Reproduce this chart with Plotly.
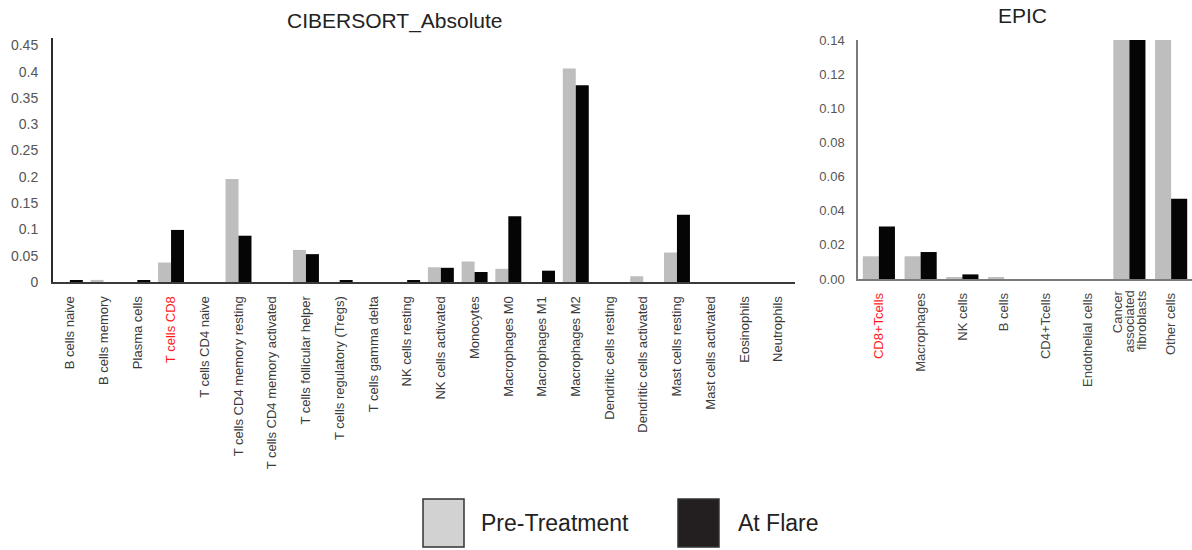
import plotly.graph_objects as go

# CIBERSORT absolute fractions per cell type
cibersort_cells = [
    "B cells naive", "B cells memory", "Plasma cells", "T cells CD8", "T cells CD4 naive",
    "T cells CD4 memory resting", "T cells CD4 memory activated", "T cells follicular helper",
    "T cells regulatory (Tregs)", "T cells gamma delta", "NK cells resting", "NK cells activated",
    "Monocytes", "Macrophages M0", "Macrophages M1", "Macrophages M2", "Dendritic cells resting",
    "Dendritic cells activated", "Mast cells resting", "Mast cells activated", "Eosinophils",
    "Neutrophils",
]
cibersort_pre = [0, 0.004, 0, 0.037, 0, 0.196, 0, 0.061, 0, 0, 0, 0.028,
                 0.039, 0.025, 0, 0.406, 0, 0.011, 0.056, 0, 0, 0]
cibersort_flare = [0.002, 0, 0.002, 0.099, 0, 0.088, 0, 0.053, 0.002, 0, 0.002, 0.027,
                   0.019, 0.125, 0.0215, 0.374, 0, 0, 0.128, 0, 0, 0]

# EPIC fractions per cell type
epic_cells = ["CD8+Tcells", "Macrophages", "NK cells", "B cells", "CD4+Tcells",
              "Endothelial cells", "Cancer associated fibroblasts", "Other cells"]
epic_pre = [0.0133, 0.0133, 0.001, 0.001, 0, 0, 0.31, 0.44]
epic_flare = [0.0308, 0.0158, 0.0027, 0, 0, 0, 0.36, 0.047]

# long EPIC label is stacked over three short lines
stacked_label = "Cancer associated fibroblasts"
stacked_lines = ["Cancer", "associated", "fibroblasts"]

highlight = {"T cells CD8", "CD8+Tcells"}
series_names = ["Pre-Treatment", "At Flare"]
series_colors = ["#bebebe", "#050505"]

W, H = 1192, 550
FONT = "Liberation Sans, Arial, Helvetica, sans-serif"


def px_x(x):
    return x / W


def px_y(y):
    return 1 - y / H


def tick_text(cells):
    out = []
    for c in cells:
        if c in highlight:
            out.append(f"<span style='color:#ff1a1a'>{c}</span>")
        elif c == stacked_label:
            out.append("")
        else:
            out.append(c)
    return out


fig = go.Figure()

for name, vals, col in zip(series_names, [cibersort_pre, cibersort_flare], series_colors):
    fig.add_trace(go.Bar(x=cibersort_cells, y=vals, name=name, marker_color=col,
                         marker_line_width=0, xaxis="x", yaxis="y", showlegend=False))

for name, vals, col in zip(series_names, [epic_pre, epic_flare], series_colors):
    fig.add_trace(go.Bar(x=epic_cells, y=vals, name=name, marker_color=col,
                         marker_line_width=0, xaxis="x2", yaxis="y2", showlegend=False))

axis_common = dict(showgrid=False, zeroline=False, ticks="outside", automargin=False,
                   tickcolor="rgba(0,0,0,0)", fixedrange=True)

fig.update_layout(
    template="none",
    width=W, height=H,
    margin=dict(l=0, r=0, t=0, b=0, pad=0, autoexpand=False),
    paper_bgcolor="white", plot_bgcolor="white",
    font=dict(family=FONT, color="#333333"),
    showlegend=False,
    barmode="group", bargap=0.23, bargroupgap=0,
    xaxis=dict(domain=[px_x(53), px_x(795)], anchor="y", type="category",
               range=[-0.5, len(cibersort_cells) - 0.5],
               tickvals=cibersort_cells, ticktext=tick_text(cibersort_cells),
               tickangle=-90, ticklen=7, tickfont=dict(size=13, color="#3a3a3a"),
               showline=True, linecolor="#3a3a3a", linewidth=2, **axis_common),
    yaxis=dict(domain=[px_y(282), px_y(38)], anchor="x", range=[0, 0.464],
               tickvals=[0, 0.05, 0.1, 0.15, 0.2, 0.25, 0.3, 0.35, 0.4, 0.45],
               ticktext=["0", "0.05", "0.1", "0.15", "0.2", "0.25", "0.3", "0.35", "0.4", "0.45"],
               ticklen=10, tickfont=dict(size=14, color="#555555"),
               showline=True, linecolor="#2a2a2a", linewidth=2, **axis_common),
    xaxis2=dict(domain=[px_x(858), 1.0], anchor="y2", type="category",
                range=[-0.5, len(epic_cells) - 0.5],
                tickvals=epic_cells, ticktext=tick_text(epic_cells),
                tickangle=-90, ticklen=7, tickfont=dict(size=13, color="#444444"),
                showline=True, linecolor="#7a7a7a", linewidth=1.5, **axis_common),
    yaxis2=dict(domain=[px_y(279), px_y(40)], anchor="x2", range=[0, 0.14],
                tickvals=[0, 0.02, 0.04, 0.06, 0.08, 0.10, 0.12, 0.14],
                tickformat=".2f",
                ticklen=9, tickfont=dict(size=13, color="#555555"),
                showline=True, linecolor="#7a7a7a", linewidth=1.5, **axis_common),
)

# Stacked tick label lines for the fibroblast category
for i, line in enumerate(stacked_lines):
    fig.add_annotation(text=line, xref="x2", yref="paper", x=stacked_label, y=px_y(288),
                       xshift=(i - 1) * 11.7, textangle=-90, xanchor="center", yanchor="top",
                       showarrow=False, font=dict(size=13, color="#444444", family=FONT))

# Panel titles
fig.add_annotation(text="CIBERSORT_Absolute", x=px_x(395), y=px_y(21), xref="paper", yref="paper",
                   xanchor="center", yanchor="middle", showarrow=False,
                   font=dict(size=21, color="#222222", family=FONT))
fig.add_annotation(text="EPIC", x=px_x(1022), y=px_y(16), xref="paper", yref="paper",
                   xanchor="center", yanchor="middle", showarrow=False,
                   font=dict(size=21, color="#222222", family=FONT))

# Shared legend: large swatches with labels
legend_items = [
    ("Pre-Treatment", "#d2d2d2", 423, 464, 479),
    ("At Flare", "#231f20", 678, 719, 736),
]
for label, fill, x0, x1, tx in legend_items:
    fig.add_shape(type="rect", xref="paper", yref="paper",
                  x0=px_x(x0), x1=px_x(x1), y0=px_y(547), y1=px_y(499),
                  fillcolor=fill, line=dict(color="#333333", width=1.5))
    fig.add_annotation(text=label, x=px_x(tx), y=px_y(523), xref="paper", yref="paper",
                       xanchor="left", yanchor="middle", showarrow=False,
                       font=dict(size=23, color="#222222", family=FONT))

fig.write_html("out.html")
